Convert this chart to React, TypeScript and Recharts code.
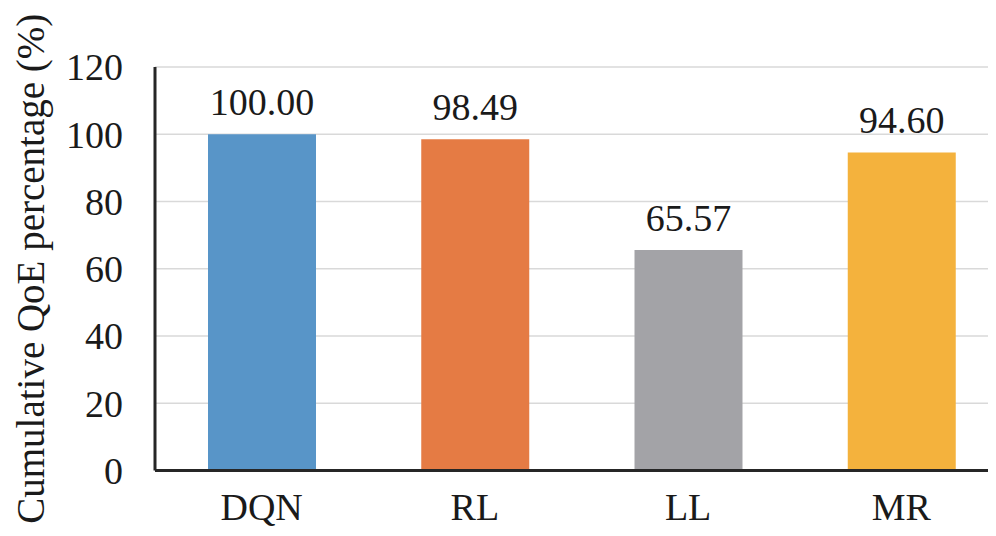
import React from 'react';
import { BarChart, Bar, XAxis, YAxis, CartesianGrid, Cell, LabelList } from 'recharts';

const categories = ['DQN', 'RL', 'LL', 'MR'];
const qoeValues = [100.0, 98.49, 65.57, 94.6];
const barColors = ['#5895C8', '#E57B44', '#A3A3A7', '#F4B23D'];
const yTicks = [0, 20, 40, 60, 80, 100, 120];
const yTitle = 'Cumulative QoE percentage (%)';

const data = categories.map((name, i) => ({ name, value: qoeValues[i] }));

const FONT = "'Liberation Serif', 'Times New Roman', serif";
const TEXT = '#1a1a1a';

export default function App() {
  return (
    <div style={{ margin: -8, width: 996, height: 536, overflow: 'hidden', background: '#fff', fontFamily: FONT }}>
      <BarChart
        width={1010}
        height={536}
        data={data}
        margin={{ top: 67, right: 2, bottom: 0.5, left: 0 }}
        style={{ fontFamily: FONT }}
      >
        <CartesianGrid yAxisId="l" vertical={false} stroke="#d9d9d9" strokeWidth={1.5} />
        <XAxis
          dataKey="name"
          height={65}
          tickLine={false}
          tickSize={0}
          tickMargin={23}
          axisLine={{ stroke: '#262626', strokeWidth: 3 }}
          tick={{ fontSize: 38, fill: TEXT, fontFamily: FONT }}
        />
        <YAxis
          yAxisId="l"
          orientation="left"
          width={155}
          domain={[0, 120]}
          ticks={yTicks}
          axisLine={false}
          tickLine={false}
          tickSize={0}
          tickMargin={32}
          tick={{ fontSize: 38, fill: TEXT, fontFamily: FONT }}
          label={{
            value: yTitle,
            angle: -90,
            position: 'insideLeft',
            offset: 30,
            style: { textAnchor: 'middle', fontSize: 39, fill: TEXT, fontFamily: FONT },
          }}
        />
        <YAxis
          yAxisId="t"
          orientation="left"
          mirror
          width={10}
          domain={[0, 120]}
          ticks={yTicks}
          axisLine={{ stroke: '#262626', strokeWidth: 3 }}
          tickLine={{ stroke: '#262626', strokeWidth: 3 }}
          tickSize={7}
          tick={() => <g />}
        />
        <Bar yAxisId="l" dataKey="value" barSize={108} isAnimationActive={false}>
          {data.map((d, i) => (
            <Cell key={d.name} fill={barColors[i]} />
          ))}
          <LabelList
            dataKey="value"
            position="top"
            offset={19}
            formatter={(v: number) => Number(v).toFixed(2)}
            style={{ fontSize: 38, fill: TEXT, fontFamily: FONT }}
          />
        </Bar>
      </BarChart>
    </div>
  );
}
